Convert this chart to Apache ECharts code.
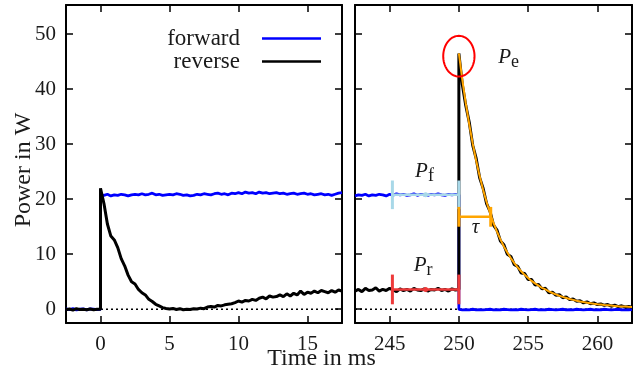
<!DOCTYPE html>
<html><head><meta charset="utf-8">
<script src="https://cdn.jsdelivr.net/npm/echarts@6/dist/echarts.min.js"></script>
<style>html,body{margin:0;padding:0;background:#fff}#c{width:633px;height:376px}</style>
</head><body><div id="c"></div>
<script>
// ---------- data ----------
const xTicksLeft = [0, 5, 10, 15];
const xTicksRight = [245, 250, 255, 260];
const yTicks = [0, 10, 20, 30, 40, 50];

const leftTime = [-2.5,-2.25,-2,-1.75,-1.5,-1.25,-1,-0.75,-0.5,-0.25,0,0,
0.25,0.5,0.75,1,1.25,1.5,1.75,2,2.25,2.5,2.75,3,3.25,3.5,3.75,4,4.25,4.5,4.75,5,
5.25,5.5,5.75,6,6.25,6.5,6.75,7,7.25,7.5,7.75,8,8.25,8.5,8.75,9,9.25,9.5,9.75,10,
10.25,10.5,10.75,11,11.25,11.5,11.75,12,12.25,12.5,12.75,13,13.25,13.5,13.75,14,14.25,14.5,14.75,15,
15.25,15.5,15.75,16,16.25,16.5,16.75,17,17.25,17.5];
const leftForward = [0.05,-0.05,0.1,-0.1,0,0.05,-0.1,0.05,0,-0.05,0,20.8,
20.7,20.9,20.6,20.8,20.7,20.9,20.8,20.6,20.8,20.9,
20.8,21.0,20.8,20.9,21.1,20.8,20.9,20.7,20.8,20.9,
20.8,21.0,20.9,20.7,20.8,20.6,20.7,20.9,20.8,21.0,
20.9,20.8,21.0,21.1,20.9,21.0,20.8,21.1,21.0,21.2,
21.0,21.3,21.1,21.2,21.0,21.3,21.1,21.2,21.0,21.1,
21.2,21.0,21.1,20.9,21.0,21.1,20.9,21.0,21.1,20.9,
21.0,20.8,20.9,21.0,20.8,20.9,20.7,20.9,21.1,21.2];
const leftReverse = [-0.1,0.05,-0.15,0.1,-0.05,0,-0.1,0.05,-0.1,0,0,22,
19.2,15.5,13.3,12.6,11.2,9.2,7.9,6.2,5.0,4.6,3.6,3.0,2.6,1.8,1.4,0.9,0.6,0.3,0.15,0.05,
0.15,-0.05,0.1,-0.1,0.0,-0.05,0.1,0.05,0.2,0.1,0.4,0.5,0.4,0.7,0.6,0.8,0.9,1.0,1.2,1.5,
1.3,1.6,1.5,1.8,1.6,2.0,2.2,1.9,2.4,2.2,2.3,2.6,2.3,2.8,2.4,2.9,2.6,3.3,2.7,3.1,
2.9,3.3,3.0,3.4,3.2,3.0,3.4,3.1,3.5,3.3];

const rightTime = [242.5,242.75,243,243.25,243.5,243.75,244,244.25,244.5,244.75,
245,245.25,245.5,245.75,246,246.25,246.5,246.75,247,247.25,
247.5,247.75,248,248.25,248.5,248.75,249,249.25,249.5,249.75,250,250,
250.25,250.5,250.75,251,251.25,251.5,251.75,252,252.25,
252.5,252.75,253,253.25,253.5,253.75,254,254.25,254.5,254.75,
255,255.25,255.5,255.75,256,256.25,256.5,256.75,257,257.25,
257.5,257.75,258,258.25,258.5,258.75,259,259.25,259.5,259.75,
260,260.25,260.5,260.75,261,261.25,261.5,261.75,262,262.25,262.5];
const rightForward = [20.6,20.8,20.7,20.9,20.6,20.8,20.7,20.9,20.8,20.6,
20.9,20.7,21.0,20.8,20.9,20.7,20.8,21.0,20.7,20.9,
20.8,20.7,20.9,20.8,21.0,20.8,20.7,20.9,20.8,20.9,20.8,0,
-0.1,-0.05,-0.1,0,-0.1,-0.05,-0.1,-0.05,0,
-0.1,-0.05,-0.1,0,-0.05,-0.1,-0.05,-0.1,0,-0.05,
-0.1,-0.05,0,-0.1,-0.05,-0.1,0,-0.05,-0.1,-0.05,
0,-0.1,-0.05,-0.1,0,-0.05,-0.1,-0.05,0,-0.1,
-0.05,-0.1,0,-0.05,-0.1,-0.05,0,-0.1,-0.05,-0.1,-0.05];
const rightReverse = [3.3,3.6,3.2,3.8,3.4,3.5,3.9,3.3,3.6,3.4,
3.8,3.5,3.2,3.7,3.4,3.6,3.3,3.8,3.5,3.4,
3.7,3.3,3.6,3.5,3.8,3.4,3.6,3.3,3.7,3.5,3.6,46.5,
40.8,37.0,34.0,29.8,27.4,23.9,22.0,19.2,17.8,
15.3,14.4,12.4,11.7,10.0,9.6,8.1,7.8,6.6,6.5,
5.4,5.4,4.4,4.5,3.7,3.8,3.0,3.1,2.55,2.65,
2.1,2.25,1.75,1.85,1.45,1.55,1.15,1.35,1.0,1.15,
0.85,0.95,0.72,0.85,0.55,0.75,0.48,0.62,0.42,0.52,0.38];

const fitTime = [250,250.25,250.5,250.75,251,251.25,251.5,251.75,252,252.25,
252.5,252.75,253,253.25,253.5,253.75,254,254.25,254.5,254.75,
255,255.25,255.5,255.75,256,256.25,256.5,256.75,257,257.25,
257.5,257.75,258,258.25,258.5,258.75,259,259.25,259.5,259.75,
260,260.25,260.5,260.75,261,261.25,261.5,261.75,262,262.25,262.5];
const fitValues = [46.5,41.7,37.4,33.6,30.1,27.0,24.2,21.7,19.5,17.5,
15.7,14.1,12.7,11.4,10.3,9.3,8.4,7.6,6.9,6.25,
5.7,5.15,4.7,4.3,3.9,3.6,3.25,2.95,2.7,2.45,
2.25,2.05,1.85,1.7,1.55,1.42,1.3,1.2,1.1,1.0,
0.92,0.85,0.78,0.72,0.66,0.61,0.56,0.52,0.48,0.44,0.41];

const zeroLeftTime = [-2.5, 17.5];
const zeroRightTime = [242.5, 262.5];
const zeroValues = [0, 0];

// error bars: P_f, P_r, tau
const barStart = [245.2, 245.2, 250];
const barEnd = [250, 250, 252.3];
const barValue = [20.8, 3.6, 16.8];
const barCap = [2.6, 2.7, 1.8];
const barColors = ['#a8d8e8', '#ee3a3a', '#ffa500'];
const barDot = [true, true, false];

// P_e ellipse (centre, radii)
const ellipseCenter = [250, 46.0];
const ellipseRadius = [1.13, 3.7];

// annotation labels
const labelMain = ['P', 'P', 'P', 'τ'];
const labelSub = ['f', 'r', 'e', ''];
const labelX = [247.3, 247.2, 253.3, 251.2];
const labelY = [25.1, 8.0, 45.8, 14.8];

const legendNames = ['forward', 'reverse'];

// ---------- chart ----------
const FONT = 'Liberation Serif';
const pairs = (xs, ys) => xs.map((x, i) => [x, ys[i]]);
const tickSet = (arr) => (v) => arr.indexOf(Math.round(v * 1000) / 1000) >= 0 ? String(v) : '';

function xAx(grid, min, max, pos, labels, ticks) {
  return {
    type: 'value', gridIndex: grid, min, max, splitNumber: 4, position: pos,
    axisLine: { show: true, onZero: false, lineStyle: { color: '#000', width: 2 } },
    axisTick: { show: true, inside: true, length: 7, lineStyle: { color: '#000', width: 1.5 } },
    axisLabel: { show: labels, showMinLabel: false, showMaxLabel: false, color: '#1a1a1a',
      fontFamily: FONT, fontSize: 21, margin: 11, formatter: tickSet(ticks) },
    splitLine: { show: false }
  };
}
function yAx(grid, pos, labels) {
  return {
    type: 'value', gridIndex: grid, min: -2.5, max: 55.3, splitNumber: 5, position: pos,
    axisLine: { show: true, onZero: false, lineStyle: { color: '#000', width: 2 } },
    axisTick: { show: true, inside: true, length: 7, lineStyle: { color: '#000', width: 1.5 } },
    axisLabel: { show: labels, showMinLabel: false, showMaxLabel: false, color: '#1a1a1a',
      fontFamily: FONT, fontSize: 21, margin: 10, formatter: tickSet(yTicks) },
    splitLine: { show: false }
  };
}

const lineS = (name, xi, yi, data, color, width, z, type) => ({
  name, type: 'line', xAxisIndex: xi, yAxisIndex: yi, data, symbol: 'none', z,
  lineStyle: { color, width, type: type || 'solid' }, itemStyle: { color }, animation: false, silent: true
});

const chart = echarts.init(document.getElementById('c'), null, { renderer: 'canvas' });
chart.setOption({
  animation: false,
  backgroundColor: '#fff',
  grid: [
    { left: 66, right: 291, top: 5, bottom: 53 },
    { left: 355, right: 1, top: 5, bottom: 53 }
  ],
  xAxis: [
    xAx(0, -2.5, 17.5, 'bottom', true, xTicksLeft),
    xAx(0, -2.5, 17.5, 'top', false, xTicksLeft),
    xAx(1, 242.5, 262.5, 'bottom', true, xTicksRight),
    xAx(1, 242.5, 262.5, 'top', false, xTicksRight)
  ],
  yAxis: [
    yAx(0, 'left', true), yAx(0, 'right', false),
    yAx(1, 'left', false), yAx(1, 'right', false)
  ],
  legend: {
    data: legendNames, orient: 'vertical', align: 'right', right: 307, top: 22,
    itemWidth: 59, itemHeight: 2.5, itemGap: 0, icon: 'rect', selectedMode: false,
    textStyle: { fontFamily: FONT, fontSize: 23, color: '#1a1a1a', lineHeight: 18, padding: [0, 17, 0, 0] }
  },
  graphic: [
    { type: 'text', x: 321.5, y: 359, style: { text: 'Time in ms', font: '24px "Liberation Serif"', fill: '#1a1a1a', align: 'center', verticalAlign: 'middle' } },
    { type: 'text', x: 23.5, y: 170, rotation: Math.PI / 2, style: { text: 'Power in W', font: '24px "Liberation Serif"', fill: '#1a1a1a', align: 'center', verticalAlign: 'middle' } }
  ],
  series: [
    lineS('', 0, 0, pairs(zeroLeftTime, zeroValues), '#000', 1.3, 1, [2, 3]),
    lineS('', 2, 2, pairs(zeroRightTime, zeroValues), '#000', 1.3, 1, [2, 3]),
    lineS('forward', 0, 0, pairs(leftTime, leftForward), '#0000ff', 2.8, 2),
    lineS('reverse', 0, 0, pairs(leftTime, leftReverse), '#000000', 3, 3),
    lineS('forward', 2, 2, pairs(rightTime, rightForward), '#0000ff', 2.8, 2),
    lineS('reverse', 2, 2, pairs(rightTime, rightReverse), '#000000', 3, 3),
    lineS('', 2, 2, pairs(fitTime, fitValues), '#ffa500', 2, 4),
    {
      type: 'custom', xAxisIndex: 2, yAxisIndex: 2, z: 5, silent: true,
      data: barStart.map((s, i) => [s, barEnd[i], barValue[i], barCap[i]]),
      renderItem: (params, api) => {
        const i = params.dataIndex;
        const x0 = api.value(0), x1 = api.value(1), y = api.value(2), h = api.value(3);
        const a = api.coord([x0, y]), b = api.coord([x1, y]);
        const a1 = api.coord([x0, y + h]), a2 = api.coord([x0, y - h]);
        const b1 = api.coord([x1, y + h]), b2 = api.coord([x1, y - h]);
        const col = barColors[i];
        const ch = [
          { type: 'line', shape: { x1: a[0], y1: a[1], x2: b[0], y2: b[1] }, style: { stroke: col, lineWidth: 2.5 } },
          { type: 'line', shape: { x1: a1[0], y1: a1[1], x2: a2[0], y2: a2[1] }, style: { stroke: col, lineWidth: 3 } },
          { type: 'line', shape: { x1: b1[0], y1: b1[1], x2: b2[0], y2: b2[1] }, style: { stroke: col, lineWidth: 3 } }
        ];
        if (barDot[i]) {
          const m = api.coord([(x0 + x1) / 2, y]);
          ch.push({ type: 'circle', shape: { cx: m[0], cy: m[1], r: 2.5 }, style: { fill: col } });
        }
        return { type: 'group', children: ch };
      }
    },
    {
      type: 'custom', xAxisIndex: 2, yAxisIndex: 2, z: 6, silent: true,
      data: [[ellipseCenter[0], ellipseCenter[1], ellipseRadius[0], ellipseRadius[1]]],
      renderItem: (params, api) => {
        const cx = api.value(0), cy = api.value(1), rx = api.value(2), ry = api.value(3);
        const pts = [];
        for (let k = 0; k < 72; k++) {
          const t = k / 72 * Math.PI * 2;
          pts.push(api.coord([cx + rx * Math.cos(t), cy + ry * Math.sin(t)]));
        }
        return { type: 'polygon', shape: { points: pts }, style: { stroke: '#ff0000', lineWidth: 2, fill: null } };
      }
    },
    {
      type: 'custom', xAxisIndex: 2, yAxisIndex: 2, z: 7, silent: true,
      data: labelX.map((x, i) => [x, labelY[i]]),
      renderItem: (params, api) => {
        const i = params.dataIndex;
        const p = api.coord([api.value(0), api.value(1)]);
        const ch = [{ type: 'text', x: p[0], y: p[1], style: { text: labelMain[i], font: 'italic 21px "Liberation Serif"', fill: '#1a1a1a', align: 'center', verticalAlign: 'middle' } }];
        if (labelSub[i]) {
          ch.push({ type: 'text', x: p[0] + 6.5, y: p[1] + 5, style: { text: labelSub[i], font: '18px "Liberation Serif"', fill: '#1a1a1a', align: 'left', verticalAlign: 'middle' } });
        }
        return { type: 'group', children: ch };
      }
    }
  ]
});
</script>
</body></html>
